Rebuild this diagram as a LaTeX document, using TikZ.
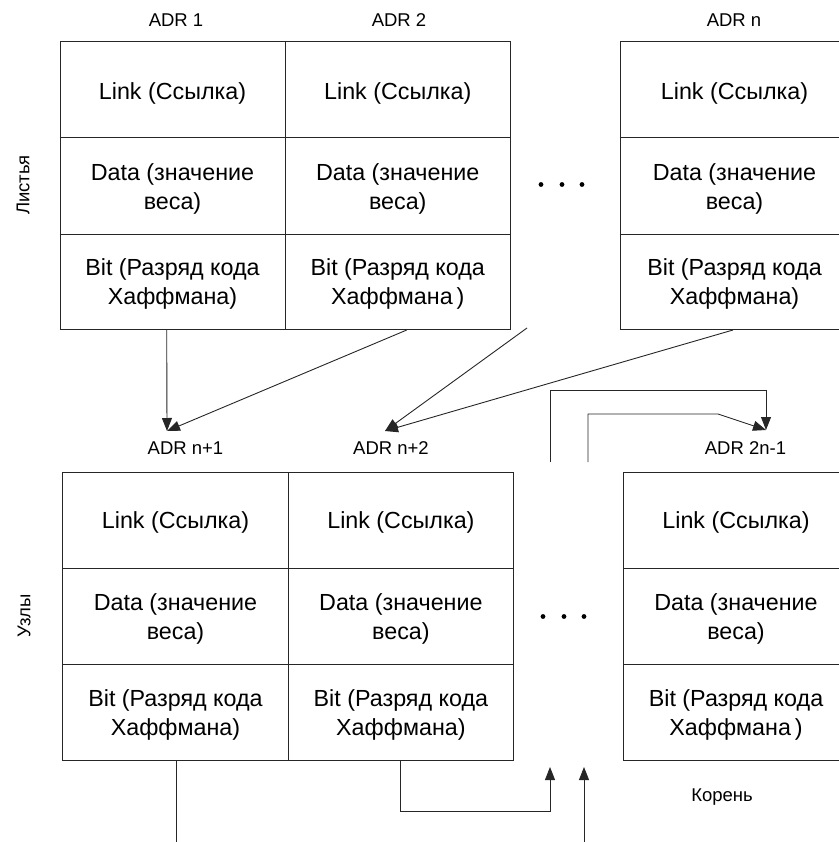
\documentclass[tikz,border=0pt]{standalone}
\usepackage{fontspec}
\setmainfont{Liberation Sans}
\usetikzlibrary{arrows.meta,calc}
\begin{document}
\begin{tikzpicture}[x=1pt,y=-1pt,
  cell/.style={draw=black!85, line width=1pt, inner sep=0pt},
  txt/.style={inner sep=0pt, align=center, font=\fontsize{23.3}{29}\selectfont},
  lbl/.style={inner sep=0pt, font=\fontsize{18.5}{21}\selectfont},
  conn/.style={draw=black!85, line width=0.9pt},
  arr/.style={conn, -{Triangle[length=13pt,width=10pt]}},
  dot/.style={circle, fill=black, inner sep=0pt, minimum size=4.8pt}
]
\useasboundingbox (0,0) rectangle (838,842);

% --- leaves (upper array): link, data and bit cells of each column ---
\foreach \nm/\cx/\w/\tail in {a/172.5/225/{}, b/397.75/225.5/{\,}, c/734.5/229/{}}{
  \node[cell, minimum width=\w pt, minimum height=96pt]   (tl\nm) at (\cx,90) {};
  \node[cell, minimum width=\w pt, minimum height=96pt]   (td\nm) at (\cx,186) {};
  \node[cell, minimum width=\w pt, minimum height=95.5pt] (tb\nm) at (\cx,281.75) {};
  \node[txt] (tl\nm-t) at ([yshift=-3pt]tl\nm.center) {Link (Ссылка)};
  \node[txt] (td\nm-t) at ([yshift=-2.5pt]td\nm.center) {Data (значение\\веса)};
  \node[txt] (tb\nm-t) at ([yshift=-2.5pt]tb\nm.center) {Bit (Разряд кода\\Хаффмана\tail)};
}

% --- nodes (lower array) ---
\foreach \nm/\cx/\w/\tail in {a/175.5/225.6/{}, b/400.9/225.2/{}, c/736/225.7/{\,}}{
  \node[cell, minimum width=\w pt, minimum height=95.5pt] (bl\nm) at (\cx,520.25) {};
  \node[cell, minimum width=\w pt, minimum height=96pt]   (bd\nm) at (\cx,616) {};
  \node[cell, minimum width=\w pt, minimum height=96pt]   (bb\nm) at (\cx,712) {};
  \node[txt] (bl\nm-t) at ([yshift=-2pt]bl\nm.center) {Link (Ссылка)};
  \node[txt] (bd\nm-t) at ([yshift=-2.5pt]bd\nm.center) {Data (значение\\веса)};
  \node[txt] (bb\nm-t) at ([yshift=-2.5pt]bb\nm.center) {Bit (Разряд кода\\Хаффмана\tail)};
}

% --- address labels ---
\node[lbl] (adr1)  at (176,20.5)  {ADR 1};
\node[lbl] (adr2)  at (399,20.5)  {ADR 2};
\node[lbl] (adrn)  at (734,20.5)  {ADR n};
\node[lbl] (adrn1) at (185.5,448) {ADR n+1};
\node[lbl] (adrn2) at (391,448)   {ADR n+2};
\node[lbl] (adr2n) at (745.5,448) {ADR 2n-1};
\node[lbl] (root)  at (722,797)   {Корень};

% --- side captions ---
\node[lbl, rotate=90] (leaves) at (23,185) {Листья};
\node[lbl, rotate=90] (inner)  at (24,616) {Узлы};

% --- ellipses between the columns ---
\foreach \i/\x in {1/541,2/562,3/582}{ \node[dot] (td\i) at (\x,184.5) {}; }
\foreach \i/\x in {1/543,2/564,3/584}{ \node[dot] (bd\i) at (\x,616.5) {}; }

% --- end points of the links ---
\coordinate (tipA) at (167,431);
\coordinate (tipB) at (385,431);
\coordinate (tipC) at (766,430);
\coordinate (fromDots) at (527,328);
\coordinate (loopA) at (550,462);
\coordinate (loopB) at (588,462);
\coordinate (upA) at (550,767);
\coordinate (upB) at (584,767);
\coordinate (inB) at (584,846);
\coordinate (outA) at (176,846);

% links from leaves to the nodes
\draw[arr] ([xshift=-5.8pt]tba.south) -- (tipA);
\draw[arr] ([xshift=9pt]tbb.south) -- (tipA);
\draw[arr] (fromDots) -- (tipB);
\draw[arr] ([xshift=-1.5pt]tbc.south) -- (tipB);
% links into the root
\draw[arr] (loopA) |- (766,390) -- (tipC);
\draw[arr] (loopB) |- (718,414) -- (tipC);
% links out of the lower array
\draw[conn] (bba.south -| outA) -- (outA);
\draw[arr] (bbb.south) |- (550,811) -- (upA);
\draw[arr] (inB) -- (upB);
\end{tikzpicture}
\end{document}
